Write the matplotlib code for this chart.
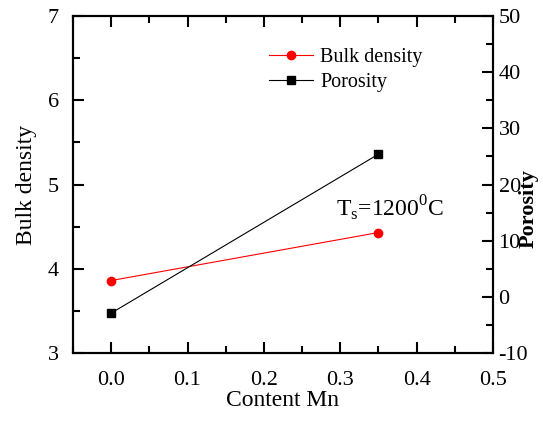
import numpy as np
import matplotlib
matplotlib.use('Agg')
import matplotlib.pyplot as plt

plt.rcParams['font.family'] = ['Liberation Serif', 'DejaVu Serif']
plt.rcParams['mathtext.fontset'] = 'custom'
plt.rcParams['mathtext.rm'] = 'Liberation Serif'
plt.rcParams['axes.unicode_minus'] = False

# data
mn = [0.0, 0.35]
bulk = [3.86, 4.43]
poro = [-2.9, 25.4]

xticks = [0.0, 0.1, 0.2, 0.3, 0.4, 0.5]
xticklabels = ['0.0', '0.1', '0.2', '0.3', '0.4', '0.5']

fig = plt.figure(figsize=(5.43, 4.21), dpi=100)
ax = fig.add_axes([0.1344, 0.1615, 0.7735, 0.8005])
ax2 = ax.twinx()

l1, = ax.plot(mn, bulk, color='red', lw=0.8, marker='o', ms=6, label='Bulk density')
l2, = ax2.plot(mn, poro, color='black', lw=0.8, marker='s', ms=6, label='Porosity')

ax.set_xlim(-0.05, 0.5)
ax.set_ylim(3, 7)
ax2.set_ylim(-10, 50)
ax.set_xticks(xticks)
ax.set_xticklabels(xticklabels)
ax.set_yticks([3, 4, 5, 6, 7])
ax2.set_yticks([-10, 0, 10, 20, 30, 40, 50])
ax.set_xticks(np.arange(-0.05, 0.5, 0.1), minor=True)
ax.set_yticks(np.arange(3.5, 7, 1), minor=True)
ax2.set_yticks(np.arange(-5, 50, 10), minor=True)

for a in (ax, ax2):
    for s in a.spines.values():
        s.set_linewidth(1.5)
ax.tick_params(which='both', direction='in', top=True, right=False, width=1.5, labelsize=16)
ax.tick_params(which='major', length=8)
ax.tick_params(which='minor', length=5)
ax.tick_params(axis='x', which='major', pad=13)
ax.tick_params(axis='y', which='major', pad=10)
ax2.tick_params(which='both', direction='in', width=1.5, labelsize=16, pad=4)
ax2.tick_params(which='major', length=8)
ax2.tick_params(which='minor', length=5)

ax.set_xlabel('Content Mn', fontsize=17, labelpad=0)
ax.set_ylabel('Bulk density', fontsize=17, labelpad=8)
fig.text(529 / 543, 1 - 209 / 421, 'Porosity', rotation=90, fontsize=16,
         fontweight='bold', ha='center', va='center')

ax.text(0.365, 4.72, r'T$_\mathregular{s}$=1200$^\mathregular{0}$C', fontsize=17,
        ha='center', va='center')

ax.legend([l1, l2], ['Bulk density', 'Porosity'], loc='upper left',
          bbox_to_anchor=(0.443, 0.935), frameon=False, fontsize=14.5,
          handlelength=2.2, handletextpad=0.35, labelspacing=0.3, borderpad=0)

fig.savefig('out.png', dpi=100)
